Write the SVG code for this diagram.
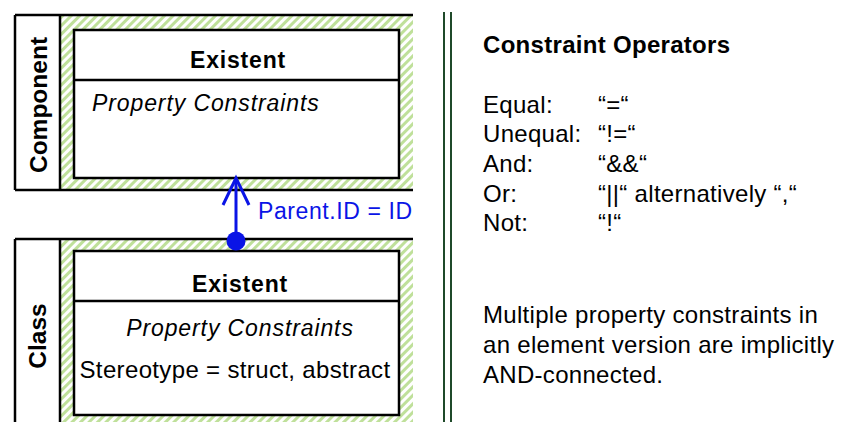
<svg xmlns="http://www.w3.org/2000/svg" width="842" height="422" viewBox="0 0 842 422">
<defs>
<pattern id="hatch" width="6" height="6" patternUnits="userSpaceOnUse" patternTransform="rotate(45)">
<rect x="0" y="0" width="3" height="6" fill="#bfe09a"/>
</pattern>
</defs>
<style>
.ln{stroke:#000;stroke-width:2.5;fill:none}
.box{stroke:#000;stroke-width:2.5;fill:#fff}
.lane{font-family:"Liberation Sans",Arial,sans-serif;font-weight:bold;font-size:24.5px;fill:#000}
.hd{font-family:"Liberation Sans",Arial,sans-serif;font-weight:bold;font-size:23px;letter-spacing:0.8px;fill:#000}
.it{font-family:"Liberation Sans",Arial,sans-serif;font-style:italic;font-size:23px;letter-spacing:0.9px;fill:#000}
.st{font-family:"Liberation Sans",Arial,sans-serif;font-size:24px;letter-spacing:0.35px;fill:#000}
.tx{font-family:"Liberation Sans",Arial,sans-serif;font-size:24px;letter-spacing:0.3px;fill:#000}
.blue{stroke:#0a14e6;stroke-width:3;fill:none}
</style>
<rect width="842" height="422" fill="#fff"/>

<g id="component-lane">
<rect x="60" y="15" width="353" height="175" fill="url(#hatch)"/>
<line class="ln" x1="15" y1="15" x2="413" y2="15"/>
<line class="ln" x1="15" y1="190" x2="413" y2="190"/>
<line class="ln" x1="15" y1="15" x2="15" y2="190"/>
<line class="ln" x1="60" y1="15" x2="60" y2="190"/>
<text class="lane" transform="translate(47,105) rotate(-90)" text-anchor="middle">Component</text>
</g>
<g id="component-existent">
<rect class="box" x="74" y="30" width="325" height="148"/>
<line class="ln" x1="74" y1="80" x2="399" y2="80"/>
<text class="hd" x="238" y="68" text-anchor="middle">Existent</text>
<text class="it" x="92" y="111">Property Constraints</text>
</g>

<g id="class-lane">
<rect x="60" y="239" width="353" height="190" fill="url(#hatch)"/>
<line class="ln" x1="15" y1="239" x2="413" y2="239"/>
<line class="ln" x1="15" y1="239" x2="15" y2="422"/>
<line class="ln" x1="60" y1="239" x2="60" y2="422"/>
<text class="lane" transform="translate(46,336) rotate(-90)" text-anchor="middle">Class</text>
</g>
<g id="class-existent">
<rect class="box" x="74" y="251" width="325" height="164"/>
<line class="ln" x1="74" y1="301" x2="399" y2="301"/>
<text class="hd" x="240" y="292" text-anchor="middle">Existent</text>
<text class="it" x="240" y="336" text-anchor="middle">Property Constraints</text>
<text class="st" x="235" y="378" text-anchor="middle">Stereotype = struct, abstract</text>
</g>

<g id="connectors">
<line class="blue" x1="236" y1="241" x2="236" y2="179"/>
<polyline class="blue" points="223,205 236,178 249,205"/>
<circle cx="236" cy="241" r="9.5" fill="#0a14e6"/>
<text x="258" y="219" font-family="'Liberation Sans',Arial,sans-serif" font-size="23" letter-spacing="0.6" fill="#0a14e6">Parent.ID = ID</text>
</g>

<g id="separator">
<line x1="444" y1="12" x2="444" y2="422" stroke="#1f4a2a" stroke-width="2"/>
<line x1="451" y1="12" x2="451" y2="422" stroke="#1f4a2a" stroke-width="2"/>
</g>

<g id="operators">
<text class="tx" x="483" y="53" font-weight="bold" letter-spacing="0.4">Constraint Operators</text>
<text class="tx" x="483" y="113">Equal:</text>
<text class="tx" x="598" y="113">“=“</text>
<text class="tx" x="483" y="142">Unequal:</text>
<text class="tx" x="598" y="142">“!=“</text>
<text class="tx" x="483" y="172">And:</text>
<text class="tx" x="598" y="172">“&amp;&amp;“</text>
<text class="tx" x="483" y="202">Or:</text>
<text class="tx" x="598" y="202">“||“ alternatively “,“</text>
<text class="tx" x="483" y="231">Not:</text>
<text class="tx" x="598" y="231">“!“</text>
</g>
<g id="note">
<text class="tx" x="483" y="323">Multiple property constraints in</text>
<text class="tx" x="483" y="353">an element version are implicitly</text>
<text class="tx" x="483" y="383">AND-connected.</text>
</g>
</svg>
